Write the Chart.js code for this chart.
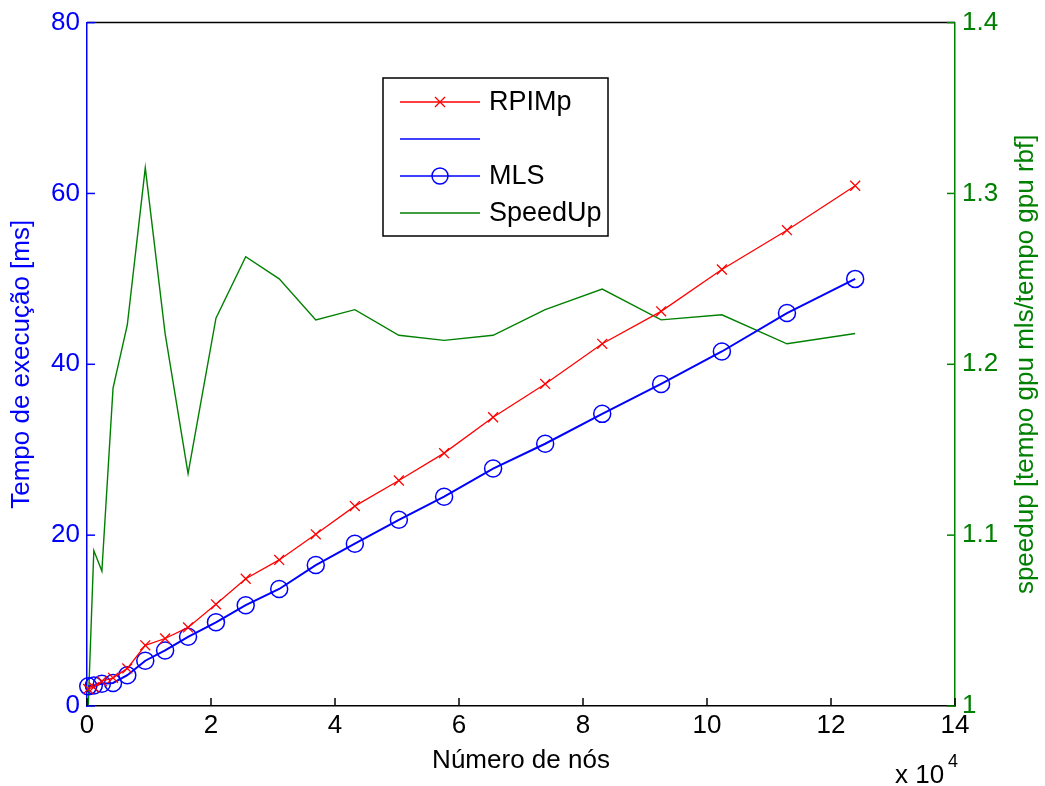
<!DOCTYPE html>
<html>
<head>
<meta charset="utf-8">
<script src="https://cdn.jsdelivr.net/npm/chart.js@4"></script>
<style>
  body { margin:0; background:#fff; }
  #wrap { width:1045px; height:786px; position:relative; }
</style>
</head>
<body>
<div id="wrap"><canvas id="chart"></canvas></div>
<script>
// number of nodes (x 10^4)
const nodes   = [0.02, 0.11, 0.24, 0.42, 0.65, 0.94, 1.26, 1.63, 2.08, 2.56, 3.10, 3.69, 4.32, 5.03, 5.76, 6.55, 7.39, 8.31, 9.26, 10.24, 11.29, 12.39];
// execution time [ms]
const rpimp   = [2.0, 2.2, 2.9, 3.3, 4.4, 7.1, 7.9, 9.2, 11.9, 14.9, 17.1, 20.1, 23.4, 26.4, 29.6, 33.8, 37.7, 42.4, 46.2, 51.1, 55.7, 60.9];
const mls     = [2.3, 2.4, 2.6, 2.7, 3.6, 5.3, 6.5, 8.1, 9.8, 11.8, 13.7, 16.5, 19.0, 21.8, 24.5, 27.8, 30.7, 34.2, 37.7, 41.5, 46.0, 50.0];
// speedup (right axis)
const speedup = [1.0, 1.091, 1.079, 1.186, 1.223, 1.315, 1.218, 1.136, 1.227, 1.263, 1.250, 1.226, 1.232, 1.217, 1.214, 1.217, 1.232, 1.244, 1.226, 1.229, 1.212, 1.218];

const xTicks  = [0, 2, 4, 6, 8, 10, 12, 14];
const yTicks  = [0, 20, 40, 60, 80];
const y2Ticks = [1, 1.1, 1.2, 1.3, 1.4];

const RED = '#ff0000', BLUE = '#0000ff', GREEN = '#008000';
const FONT = '"Liberation Sans", Arial, sans-serif';
const FS = 26;

const pts = arr => arr.map((v, i) => ({x: nodes[i], y: v}));

// inward ticks, top border, right title, legend and the x 10^4 note
const decor = {
  id: 'decor',
  afterDatasetsDraw(chart) {
    const c = chart.ctx, a = chart.chartArea;
    const sx = chart.scales.x, sy = chart.scales.y, sy2 = chart.scales.y2;
    c.save();
    c.lineWidth = 1.5;
    c.strokeStyle = '#000';
    c.beginPath(); c.moveTo(a.left, a.top); c.lineTo(a.right, a.top); c.stroke();
    xTicks.forEach(v => {
      const px = sx.getPixelForValue(v);
      c.beginPath(); c.moveTo(px, a.bottom); c.lineTo(px, a.bottom - 8); c.stroke();
    });
    c.strokeStyle = BLUE;
    yTicks.forEach(v => {
      const py = sy.getPixelForValue(v);
      c.beginPath(); c.moveTo(a.left, py); c.lineTo(a.left + 8, py); c.stroke();
    });
    c.strokeStyle = GREEN;
    y2Ticks.forEach(v => {
      const py = sy2.getPixelForValue(v);
      c.beginPath(); c.moveTo(a.right, py); c.lineTo(a.right - 8, py); c.stroke();
    });

    // right axis title, reading bottom to top like the left one
    c.save();
    c.translate(1026, (a.top + a.bottom) / 2);
    c.rotate(-Math.PI / 2);
    c.fillStyle = GREEN;
    c.font = FS + 'px ' + FONT;
    c.textAlign = 'center';
    c.textBaseline = 'middle';
    c.fillText('speedup [tempo gpu mls/tempo gpu rbf]', 0, 0);
    c.restore();

    // legend
    const L = 383, T = 78, W = 225, H = 158;
    c.fillStyle = '#fff';
    c.fillRect(L, T, W, H);
    c.strokeStyle = '#000';
    c.lineWidth = 1.5;
    c.strokeRect(L, T, W, H);
    const items = [
      {label: 'RPIMp', color: RED, w: 1.3, marker: 'x'},
      {label: '', color: BLUE, w: 1.5, marker: null},
      {label: 'MLS', color: BLUE, w: 1.5, marker: 'o'},
      {label: 'SpeedUp', color: GREEN, w: 1.5, marker: null}
    ];
    c.font = '27px ' + FONT;
    c.textBaseline = 'middle';
    items.forEach((it, i) => {
      const yy = T + 24 + i * 37;
      c.strokeStyle = it.color; c.lineWidth = it.w;
      c.beginPath(); c.moveTo(L + 17, yy); c.lineTo(L + 97, yy); c.stroke();
      if (it.marker === 'x') {
        c.beginPath();
        c.moveTo(L + 52, yy - 5); c.lineTo(L + 62, yy + 5);
        c.moveTo(L + 62, yy - 5); c.lineTo(L + 52, yy + 5);
        c.stroke();
      } else if (it.marker === 'o') {
        c.beginPath(); c.arc(L + 57, yy, 8, 0, Math.PI * 2); c.stroke();
      }
      c.fillStyle = '#000';
      c.fillText(it.label, L + 106, yy + 1);
    });

    // x 10^4
    c.fillStyle = '#000';
    c.textBaseline = 'alphabetic';
    c.font = FS + 'px ' + FONT;
    c.fillText('x 10', 895, 783);
    c.font = '18px ' + FONT;
    c.fillText('4', 948, 767);
    c.restore();
  }
};

new Chart(document.getElementById('chart'), {
  type: 'line',
  data: {
    datasets: [
      {label: 'RPIMp', data: pts(rpimp), yAxisID: 'y', borderColor: RED, backgroundColor: 'transparent',
       borderWidth: 1.3, pointStyle: 'crossRot', pointRadius: 7, pointBorderColor: RED, pointBorderWidth: 1.3, clip: false},
      {label: 'MLS', data: pts(mls), yAxisID: 'y', borderColor: BLUE, backgroundColor: 'transparent',
       borderWidth: 2, pointStyle: 'circle', pointRadius: 8.5, pointBorderColor: BLUE, pointBorderWidth: 1.5, clip: false},
      {label: 'SpeedUp', data: pts(speedup), yAxisID: 'y2', borderColor: GREEN, backgroundColor: 'transparent',
       borderWidth: 1.4, pointRadius: 0, clip: false}
    ]
  },
  options: {
    responsive: true,
    maintainAspectRatio: false,
    animation: false,
    events: [],
    layout: { padding: { top: 22, left: 0, right: 0, bottom: 0 } },
    plugins: { legend: { display: false }, tooltip: { enabled: false } },
    scales: {
      x: {
        type: 'linear', min: 0, max: 14,
        afterBuildTicks: s => { s.ticks = xTicks.map(v => ({value: v})); },
        afterFit: s => { s.height = 80; },
        grid: { display: true, drawOnChartArea: false, drawTicks: false },
        border: { display: true, color: '#000', width: 1.5 },
        ticks: { color: '#000', font: { family: FONT, size: FS }, padding: 4, maxRotation: 0 },
        title: { display: true, text: 'Número de nós', color: '#000', font: { family: FONT, size: FS }, padding: { top: 0, bottom: 10 } }
      },
      y: {
        position: 'left', min: 0, max: 80,
        afterBuildTicks: s => { s.ticks = yTicks.map(v => ({value: v})); },
        afterFit: s => { s.width = 87; },
        grid: { display: true, drawOnChartArea: false, drawTicks: false },
        border: { display: true, color: BLUE, width: 1.5 },
        ticks: { color: BLUE, font: { family: FONT, size: FS }, padding: 7 },
        title: { display: true, text: 'Tempo de execução [ms]', color: BLUE, font: { family: FONT, size: FS }, padding: { top: 6, bottom: 0 } }
      },
      y2: {
        position: 'right', min: 1, max: 1.4,
        afterBuildTicks: s => { s.ticks = y2Ticks.map(v => ({value: v})); },
        afterFit: s => { s.width = 90; },
        grid: { display: true, drawOnChartArea: false, drawTicks: false },
        border: { display: true, color: GREEN, width: 1.5 },
        ticks: { color: GREEN, font: { family: FONT, size: FS }, padding: 7,
                 callback: v => v === 1 ? '1' : v.toFixed(1) },
        title: { display: false }
      }
    }
  },
  plugins: [decor]
});
</script>
</body>
</html>
